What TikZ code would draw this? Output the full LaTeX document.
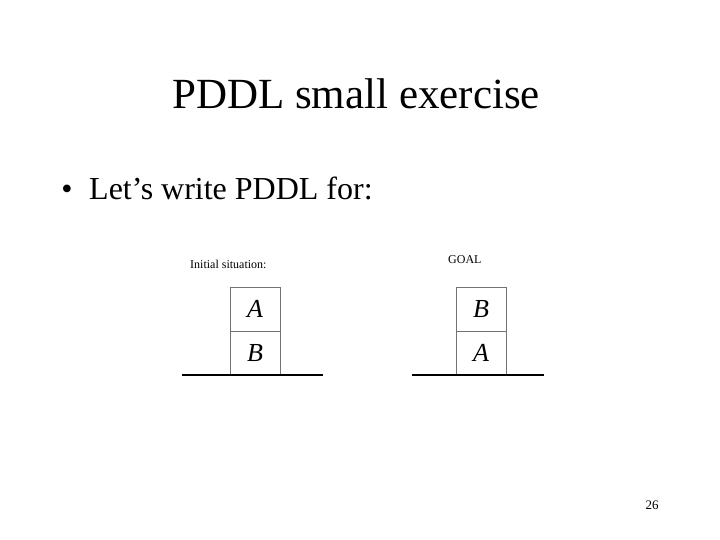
\documentclass[tikz,border=0pt]{standalone}
\usepackage{fontspec}
\setmainfont{Liberation Serif}
\usetikzlibrary{arrows}

\begin{document}
\begin{tikzpicture}[x=1pt,y=-1pt,
  block/.style={draw=black!55,line width=0.7pt,minimum width=50pt,minimum height=44pt,inner sep=0pt,font=\fontsize{26}{26}\selectfont\itshape},
  label/.style={anchor=base west,inner sep=0pt,font=\fontsize{12}{12}\selectfont}]
  \useasboundingbox (0,0) rectangle (720,540);

  \node[anchor=base,inner sep=0pt] (title) at (356,109) {\fontsize{43}{43}\selectfont PDDL small exercise};
  \node[anchor=base,inner sep=0pt] (dot) at (67,200) {\fontsize{32}{32}\selectfont\textbullet};
  \node[anchor=base west,inner sep=0pt] (item) at (89,200) {\fontsize{32}{32}\selectfont Let’s write PDDL for:};

  \node[label] (initlab) at (190,268) {Initial situation:};
  \node[block] (initA) at (255,309) {A};
  \node[block] (initB) at (255,353) {B};
  \draw[line width=1.4pt] (182,375) -- (323,375);

  \node[label] (goallab) at (448,263) {GOAL};
  \node[block] (goalB) at (481,309) {B};
  \node[block] (goalA) at (481,353) {A};
  \draw[line width=1.4pt] (412,375) -- (544,375);

  \node[anchor=base,inner sep=0pt] (page) at (652,509) {\fontsize{13}{13}\selectfont 26};
\end{tikzpicture}
\end{document}
